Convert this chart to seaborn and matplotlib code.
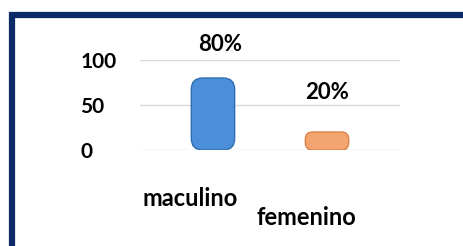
import matplotlib
matplotlib.use("Agg")
import matplotlib.pyplot as plt
import seaborn as sns
import pandas as pd
from matplotlib.patches import FancyBboxPatch, Rectangle

categories = ["maculino", "femenino"]
values = [80, 20]
value_labels = ["80%", "20%"]
yticks = [0, 50, 100]
bar_colors = ["#4A8FD8", "#F4A46E"]

sns.set_theme(style="white")
plt.rcParams['font.family'] = ['Lato', 'DejaVu Sans']

W, H = 464, 246
fig = plt.figure(figsize=(W / 100, H / 100), dpi=100)
fig.patch.set_facecolor("white")

# navy frame
fig.patches.append(Rectangle((12 / W, -0.1), 1.2, (1 - 15 / H) + 0.1,
                             transform=fig.transFigure, fill=False,
                             edgecolor="#0B2A66", linewidth=4.5, zorder=10))

ax_left, ax_right = 140 / W, 400 / W
ax_bottom, ax_top = 1 - 150 / H, 1 - 60 / H
ax = fig.add_axes([ax_left, ax_bottom, ax_right - ax_left, ax_top - ax_bottom])

df = pd.DataFrame({"cat": categories, "val": values})
sns.barplot(data=df, x="cat", y="val", hue="cat", palette=bar_colors,
            saturation=1, legend=False, width=0.38, ax=ax, zorder=3)

ax.set_xlim(-0.64, 1.64)
ax.set_ylim(0, 100)
ax.set_yticks(yticks)
ax.set_yticklabels([str(t) for t in yticks], fontsize=15, fontweight="bold",
                   ha="left")
ax.tick_params(axis="y", length=0, pad=43, colors="black")
ax.set_xticks([])
ax.set_xlabel("")
ax.set_ylabel("")
for s in ax.spines.values():
    s.set_visible(False)
for t in yticks:
    ax.axhline(t, color="#D9D9D9", linewidth=1.0, zorder=1)

# round the bars using their own geometry
fig.canvas.draw()
bbox = ax.get_window_extent()
px_per_x = bbox.width / (ax.get_xlim()[1] - ax.get_xlim()[0])
px_per_y = bbox.height / (ax.get_ylim()[1] - ax.get_ylim()[0])
aspect = px_per_x / px_per_y
edge_colors = ["#2E6DB4", "#D9834A"]
for p, ec in zip(list(ax.patches), edge_colors):
    x, y, w, h = p.get_x(), p.get_y(), p.get_width(), p.get_height()
    fc = p.get_facecolor()
    p.set_visible(False)
    r = min(0.1, h / aspect / 2.5)
    fb = FancyBboxPatch((x, y), w, h,
                        boxstyle=f"round,pad=0,rounding_size={r}",
                        mutation_aspect=aspect, facecolor=fc,
                        edgecolor=ec, linewidth=1.0, zorder=3)
    ax.add_patch(fb)

# value labels
label_dx = [0.06, 0.0]
label_dy = [37, 44]
for i, (v, lab) in enumerate(zip(values, value_labels)):
    ax.text(i + label_dx[i], v + label_dy[i], lab, ha="center", va="center",
            fontsize=16, fontweight="bold", color="black", clip_on=False)

# category labels (staggered)
label_y = [-54, -75]
label_x = [-0.2, 0.82]
for i, c in enumerate(categories):
    ax.text(label_x[i], label_y[i], c, ha="center", va="center",
            fontsize=17, fontweight="bold", color="black", clip_on=False)

fig.savefig("out.png", dpi=100, facecolor="white")
